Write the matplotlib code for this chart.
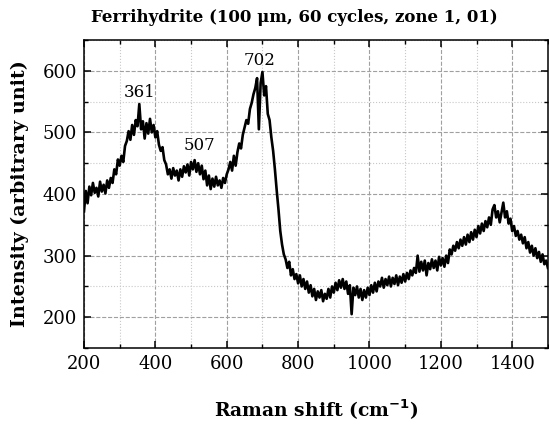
import matplotlib
matplotlib.use("Agg")
import matplotlib.pyplot as plt
import numpy as np
from matplotlib.ticker import MultipleLocator

# Raman spectrum, one value every 5 cm-1 from 200 to 1500
shift = np.arange(200, 1505, 5)
intensity = [
    372, 405, 385, 412, 398, 418, 402, 410, 396, 420,
    404, 415, 401, 422, 410, 426, 418, 440, 432, 456,
    446, 462, 452, 478, 486, 502, 488, 512, 496, 520,
    510, 546, 505, 518, 490, 515, 498, 522, 500, 512,
    492, 502, 480, 470, 476, 455, 448, 432, 440, 425,
    442, 430, 438, 422, 440, 428, 445, 435, 448, 430,
    452, 440, 455, 436, 450, 432, 446, 424, 438, 414,
    430, 408, 425, 412, 428, 414, 422, 410, 426, 418,
    432, 440, 452, 438, 462, 446, 468, 482, 474, 496,
    508, 520, 514, 538, 548, 562, 572, 588, 505, 580,
    598, 560, 575, 530, 520, 492, 470, 440, 406, 375,
    340, 318, 302, 294, 280, 290, 268, 278, 262, 270,
    255, 268, 250, 262, 246, 258, 240, 252, 234, 246,
    228, 242, 232, 244, 226, 238, 230, 246, 232, 250,
    240, 256, 244, 260, 248, 262, 246, 258, 238, 252,
    205, 248, 236, 250, 232, 246, 228, 244, 232, 248,
    236, 252, 240, 256, 242, 258, 250, 264, 248, 262,
    252, 266, 250, 264, 254, 268, 252, 266, 256, 270,
    258, 272, 262, 276, 268, 280, 272, 300, 274, 290,
    276, 292, 268, 288, 278, 294, 280, 292, 276, 298,
    284, 296, 282, 300, 288, 310, 302, 316, 308, 322,
    312, 326, 316, 330, 318, 334, 322, 338, 326, 342,
    330, 348, 336, 352, 340, 356, 346, 362, 350, 375,
    382, 362, 372, 354, 370, 386, 362, 372, 352, 360,
    340, 348, 332, 340, 326, 334, 320, 330, 312, 322,
    305, 316, 300, 312, 296, 306, 290, 302, 286, 292,
    280,
]

peak_labels = ["361", "507", "702"]
peak_pos = [357, 525, 693]
peak_text_y = [564, 478, 616]

title = "Ferrihydrite (100 \u03bcm, 60 cycles, zone 1, 01)"

plt.rcParams["font.family"] = ["DejaVu Serif"]

fig = plt.figure(figsize=(5.49, 4.25), dpi=100)
ax = fig.add_axes([0.153, 0.181, 0.845, 0.725])

ax.plot(shift, intensity, color="black", lw=1.9)

for lab, xp, yp in zip(peak_labels, peak_pos, peak_text_y):
    ax.text(xp, yp, lab, ha="center", va="center", fontsize=12)

ax.set_xlim(200, 1500)
ax.set_ylim(150, 650)
ax.xaxis.set_major_locator(MultipleLocator(200))
ax.xaxis.set_minor_locator(MultipleLocator(100))
ax.yaxis.set_major_locator(MultipleLocator(100))
ax.yaxis.set_minor_locator(MultipleLocator(50))

ax.grid(which="major", color="#a0a0a0", ls="--", lw=0.8)
ax.grid(which="minor", color="#c8c8c8", ls=":", lw=0.8)
ax.set_axisbelow(True)

ax.tick_params(which="both", direction="in", top=True, right=True, labelsize=13)
ax.tick_params(which="major", length=5, width=1.1, pad=5)
ax.tick_params(which="minor", length=3, width=1.0)
for sp in ax.spines.values():
    sp.set_linewidth(1.1)

ax.set_xlabel("Raman shift (cm$^{\\mathbf{-1}}$)", fontsize=13.5, fontweight="bold", labelpad=18)
ax.set_ylabel("Intensity (arbitrary unit)", fontsize=13.8, fontweight="bold", labelpad=10)
fig.text(0.537, 0.96, title, ha="center", va="center", fontsize=12, fontweight="bold")

fig.savefig("out.png", dpi=100)
